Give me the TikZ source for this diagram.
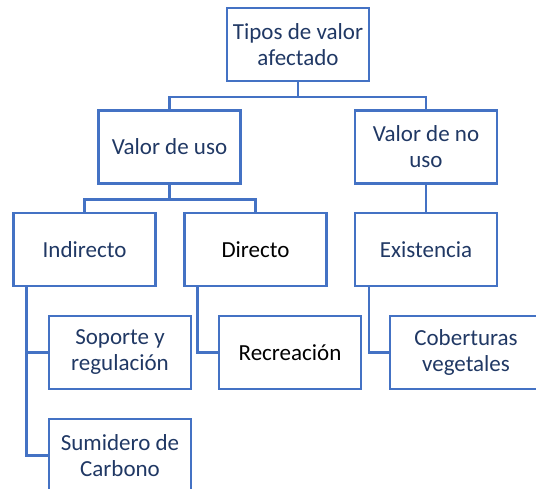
\documentclass[tikz,border=0pt]{standalone}
\usepackage{fontspec}
\setmainfont{Carlito}
\definecolor{boxblue}{RGB}{68, 114, 196}
\definecolor{textnavy}{RGB}{32, 56, 100}
\usepackage{tikz}

\begin{document}
\begin{tikzpicture}[x=1pt, y=-1pt,
  valbox/.style={draw=boxblue, line width=2.5pt, minimum width=142pt, minimum height=73pt, inner sep=0pt, align=center, text=textnavy, font=\fontsize{23}{26}\selectfont},
  link/.style={draw=boxblue, line width=2.5pt}]
  \clip (0, 0) rectangle (536, 489);

  % Root
  \node[valbox] (tipos) at (298, 44.5) {Tipos de valor\\afectado};

  % Second level
  \node[valbox] (uso) at (169.5, 147) {Valor de uso};
  \node[valbox] (nouso) at (426, 147) {Valor de no\\uso};
  \draw[link] (tipos.south) -- ++(0, 15) -| (uso.north);
  \draw[link] (tipos.south) -- ++(0, 15) -| (nouso.north);

  % Third level
  \node[valbox] (indirecto) at (84.5, 249.5) {Indirecto};
  \node[valbox, text=black] (directo) at (255.5, 249.5) {Directo};
  \node[valbox] (existencia) at (426, 249.5) {Existencia};
  \draw[link] (uso.south) -- ++(0, 15) -| (indirecto.north);
  \draw[link] (uso.south) -- ++(0, 15) -| (directo.north);
  \draw[link] (nouso) -- (existencia);

  % Leaves
  \node[valbox] (soporte) at (120, 352.5) {Soporte y\\regulación};
  \node[valbox] (sumidero) at (120, 455.5) {Sumidero de\\Carbono};
  \node[valbox, text=black] (recreacion) at (290, 352.5) {Recreación};
  \node[valbox, minimum width=152pt] (coberturas) at (466, 352.5) {Coberturas\\vegetales};
  \draw[link] ([xshift=14pt]indirecto.south west) |- (soporte.west);
  \draw[link] ([xshift=14pt]indirecto.south west) |- (sumidero.west);
  \draw[link] ([xshift=14pt]directo.south west) |- (recreacion.west);
  \draw[link] ([xshift=15pt]existencia.south west) |- (coberturas.west);
\end{tikzpicture}
\end{document}
